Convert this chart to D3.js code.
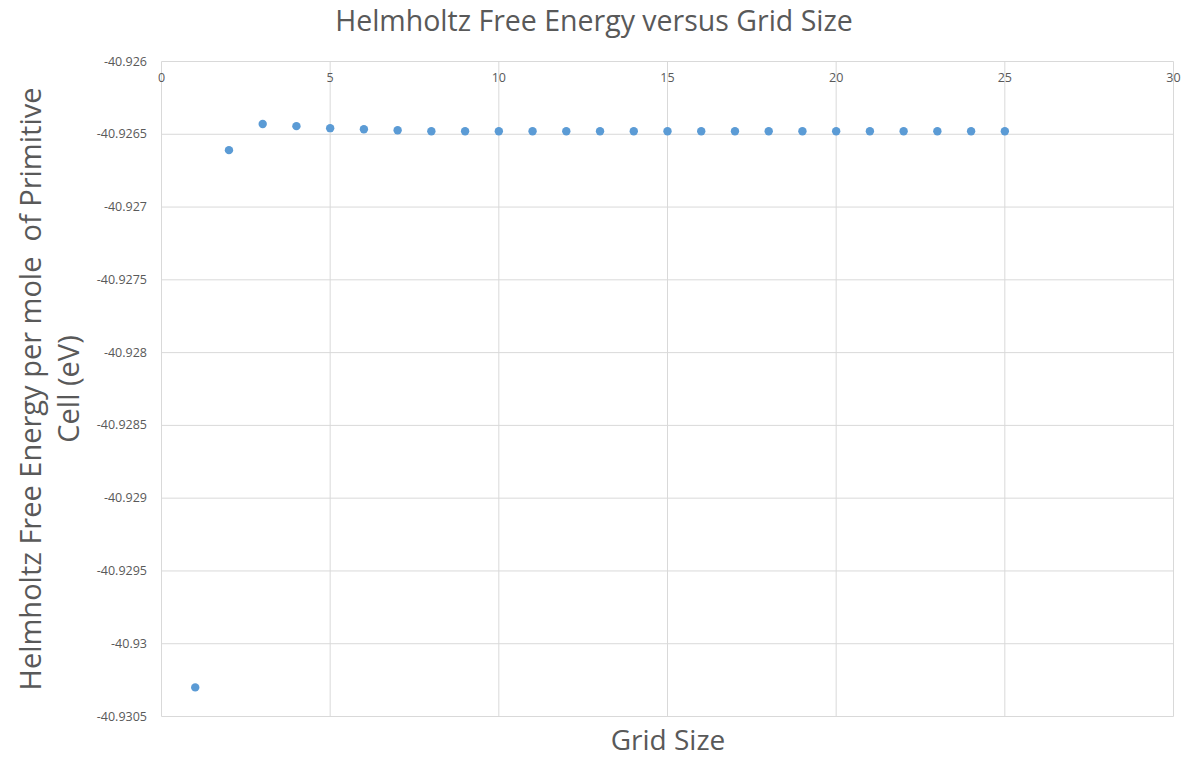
<!DOCTYPE html>
<html><head><meta charset="utf-8">
<script src="https://cdn.jsdelivr.net/npm/d3@7"></script>
<style>body{margin:0;background:#fff;} text{font-family:"Open Sans","Noto Sans",sans-serif;}</style>
</head><body>
<svg id="c" width="1188" height="769"></svg>
<script>
const gridSize = [1,2,3,4,5,6,7,8,9,10,11,12,13,14,15,16,17,18,19,20,21,22,23,24,25];
const energy = [-40.93030,-40.926609,-40.926429,-40.926444,-40.926458,-40.926465,-40.926472,-40.926479,
  -40.926479,-40.926479,-40.926479,-40.926479,-40.926479,-40.926479,-40.926479,-40.926479,-40.926479,
  -40.926479,-40.926479,-40.926479,-40.926479,-40.926479,-40.926479,-40.926479,-40.926479];
const xTicks = [0,5,10,15,20,25,30];
const yTicks = [-40.926,-40.9265,-40.927,-40.9275,-40.928,-40.9285,-40.929,-40.9295,-40.93,-40.9305];
const yTickLabels = ["-40.926","-40.9265","-40.927","-40.9275","-40.928","-40.9285","-40.929","-40.9295","-40.93","-40.9305"];

const svg = d3.select("#c");
const L=161.5, R=1173.5, T=61.5, B=716.5;
const x = d3.scaleLinear().domain([0,30]).range([L,R]);
const y = d3.scaleLinear().domain([-40.926,-40.9305]).range([T,B]);
const grid="#d9d9d9", tc="#595959";

svg.append("g").selectAll("line").data(yTicks).join("line")
  .attr("x1",L).attr("x2",R).attr("y1",d=>y(d)).attr("y2",d=>y(d))
  .attr("stroke",grid).attr("stroke-width",1);
svg.append("g").selectAll("line").data(xTicks).join("line")
  .attr("y1",T).attr("y2",B).attr("x1",d=>x(d)).attr("x2",d=>x(d))
  .attr("stroke",grid).attr("stroke-width",1);

svg.append("g").selectAll("text").data(yTicks).join("text")
  .attr("x",147).attr("y",d=>y(d)+4).attr("text-anchor","end")
  .attr("font-size",12.5).attr("fill",tc).text((d,i)=>yTickLabels[i]);
svg.append("g").selectAll("text").data(xTicks).join("text")
  .attr("x",d=>x(d)).attr("y",T+20).attr("text-anchor","middle")
  .attr("font-size",12.5).attr("fill",tc).text(d=>d);

svg.append("g").selectAll("circle").data(gridSize).join("circle")
  .attr("cx",d=>x(d)).attr("cy",(d,i)=>y(energy[i])).attr("r",4.2)
  .attr("fill","#5b9bd5");

svg.append("text").attr("x",594).attr("y",31).attr("text-anchor","middle")
  .attr("font-size",28.5).attr("fill",tc).text("Helmholtz Free Energy versus Grid Size");
svg.append("text").attr("x",668).attr("y",750).attr("text-anchor","middle")
  .attr("font-size",28).attr("fill",tc).text("Grid Size");
const yt = svg.append("text").attr("transform","translate(0,389) rotate(-90)")
  .attr("text-anchor","middle").attr("font-size",29).attr("fill",tc);
yt.append("tspan").attr("x",0).attr("y",41).text("Helmholtz Free Energy per mole  of Primitive").attr("xml:space","preserve");
yt.append("tspan").attr("x",0).attr("y",79).text("Cell (eV)");
</script></body></html>
